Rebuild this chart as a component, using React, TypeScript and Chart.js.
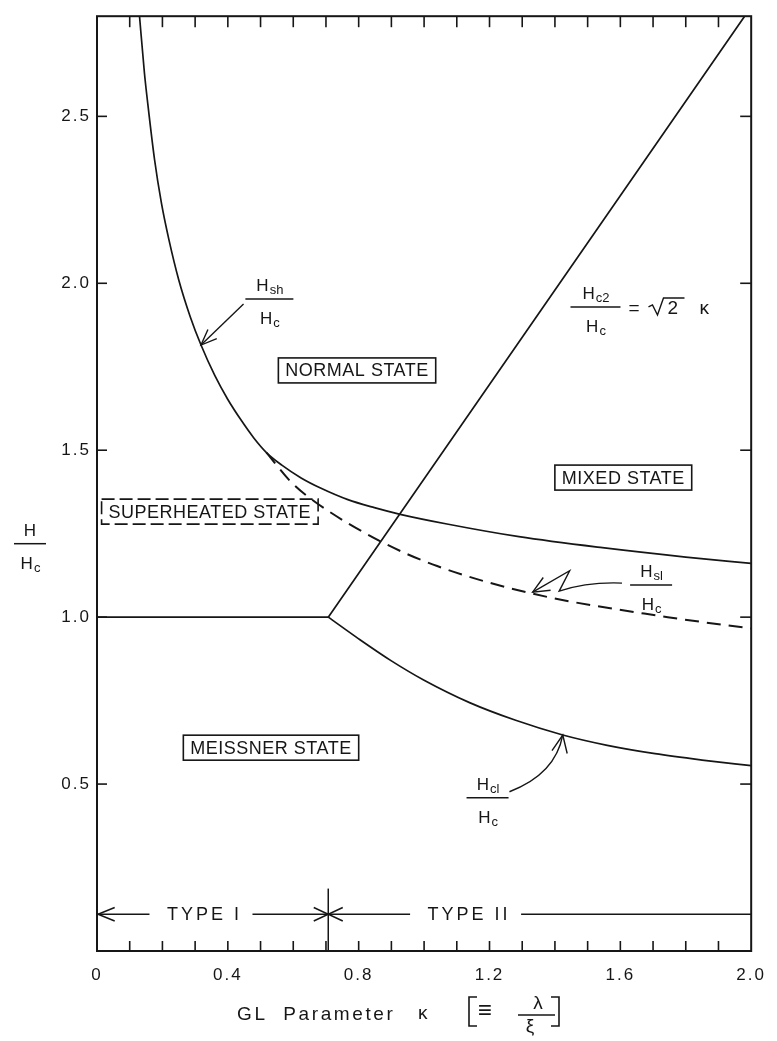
import { useEffect, useRef } from "react";
import { Chart, registerables } from "chart.js";

Chart.register(...registerables);

const FONT = '"Liberation Sans", Arial, sans-serif';
const INK = "#161616";

// Superheating field H_sh / H_c (solid, runs from the top edge down to κ = 2)
const hshKappa = [0.13, 0.145, 0.155, 0.176, 0.197, 0.22, 0.25, 0.285, 0.318, 0.36, 0.4, 0.442, 0.48, 0.518, 0.564, 0.624, 0.685, 0.767, 0.848, 0.927, 1.07, 1.29, 1.545, 1.8, 2.0];
const hshField = [2.8, 2.63, 2.54, 2.37, 2.24, 2.13, 2.01, 1.9, 1.815, 1.724, 1.652, 1.588, 1.536, 1.493, 1.456, 1.417, 1.386, 1.352, 1.328, 1.308, 1.279, 1.241, 1.208, 1.18, 1.161];

// H_s1 / H_c (dashed branch)
const hs1Kappa = [0.518, 0.594, 0.667, 0.867, 1.04, 1.333, 1.745, 2.0];
const hs1Field = [1.493, 1.404, 1.345, 1.227, 1.153, 1.07, 1.0, 0.966];

// Thermodynamic critical field on the type I side
const hcKappa = [0, 0.707];
const hcField = [1.0, 1.0];

// Lower critical field H_c1 / H_c
const hc1Kappa = [0.707, 0.8, 0.9, 1.0, 1.139, 1.28, 1.424, 1.56, 1.706, 1.85, 2.0];
const hc1Field = [1.0, 0.935, 0.869, 0.811, 0.744, 0.691, 0.647, 0.616, 0.591, 0.572, 0.555];

// Upper critical field H_c2 / H_c = √2 κ
const hc2Kappa = [0.707, 1.98];
const hc2Field = [1.0, 2.8];

// Axis ticks
const xTickValues = [0, 0.4, 0.8, 1.2, 1.6, 2.0];
const xTickLabels = ["0", "0.4", "0.8", "1.2", "1.6", "2.0"];
const yTickValues = [0.5, 1.0, 1.5, 2.0, 2.5];
const yTickLabels = ["0.5", "1.0", "1.5", "2.0", "2.5"];

// Boxed region names and their centres (κ, H/Hc)
const regionNames = ["NORMAL STATE", "MIXED STATE", "SUPERHEATED STATE", "MEISSNER STATE"];
const regionKappa = [0.795, 1.609, 0.345, 0.532];
const regionField = [1.739, 1.418, 1.316, 0.609];
const regionDashed = [false, false, true, false];

// Type I / type II divider
const typeBoundary = 0.707;
const typeRowField = 0.11;
const typeNames = ["TYPE I", "TYPE II"];
const typeNameKappa = [0.324, 1.133];

type Ctx = CanvasRenderingContext2D;

function seg(ctx: Ctx, x1: number, y1: number, x2: number, y2: number) {
  ctx.beginPath();
  ctx.moveTo(x1, y1);
  ctx.lineTo(x2, y2);
  ctx.stroke();
}

// open arrowhead at (tx, ty), pointing away from (fx, fy)
function head(ctx: Ctx, tx: number, ty: number, fx: number, fy: number, len: number, spread: number) {
  const ang = Math.atan2(fy - ty, fx - tx);
  const s = (spread * Math.PI) / 180;
  ctx.beginPath();
  ctx.moveTo(tx + len * Math.cos(ang - s), ty + len * Math.sin(ang - s));
  ctx.lineTo(tx, ty);
  ctx.lineTo(tx + len * Math.cos(ang + s), ty + len * Math.sin(ang + s));
  ctx.stroke();
}

// "H_sub" over "H_c" with a bar, centred on (cx, lineY)
function fieldFraction(ctx: Ctx, cx: number, lineY: number, barW: number, sub: string) {
  const main = `17px ${FONT}`;
  const small = `13px ${FONT}`;
  const part = (y: number, s: string) => {
    ctx.font = main;
    const wH = ctx.measureText("H").width;
    ctx.font = small;
    const wS = s ? ctx.measureText(s).width : 0;
    const x0 = cx - (wH + wS) / 2;
    ctx.font = main;
    ctx.fillText("H", x0, y);
    if (s) {
      ctx.font = small;
      ctx.fillText(s, x0 + wH + 1, y + 3);
    }
  };
  ctx.textAlign = "left";
  ctx.textBaseline = "alphabetic";
  part(lineY - 8, sub);
  ctx.lineWidth = 1.5;
  seg(ctx, cx - barW / 2, lineY, cx + barW / 2, lineY);
  part(lineY + 25, "c");
}

const diagramPlugin = {
  id: "diagram",
  beforeDraw(chart: any) {
    chart.ctx.letterSpacing = "2px";
  },
  afterDraw(chart: any) {
    const ctx: Ctx = chart.ctx;
    const a = chart.chartArea;
    const sx = chart.scales.x;
    const sy = chart.scales.y;
    const px = (k: number) => sx.getPixelForValue(k);
    const py = (h: number) => sy.getPixelForValue(h);

    ctx.save();
    ctx.letterSpacing = "0px";
    ctx.strokeStyle = INK;
    ctx.fillStyle = INK;
    ctx.lineCap = "butt";
    ctx.setLineDash([]);

    // frame
    ctx.lineWidth = 2;
    ctx.strokeRect(a.left, a.top, a.right - a.left, a.bottom - a.top);

    // inward ticks: every 0.1 in κ on top and bottom, at the labelled H values on both sides
    ctx.lineWidth = 1.6;
    for (let i = 1; i < 20; i++) {
      const x = px(i / 10);
      seg(ctx, x, a.bottom, x, a.bottom - 10);
      seg(ctx, x, a.top, x, a.top + 11);
    }
    for (const v of yTickValues) {
      const y = py(v);
      seg(ctx, a.left, y, a.left + 10, y);
      seg(ctx, a.right, y, a.right - 11, y);
    }

    // boxed region names
    ctx.font = `18px ${FONT}`;
    ctx.letterSpacing = "0.5px";
    ctx.textAlign = "center";
    ctx.textBaseline = "middle";
    regionNames.forEach((name, i) => {
      const cx = px(regionKappa[i]);
      const cy = py(regionField[i]);
      const w = ctx.measureText(name).width + 14;
      const h = 25;
      ctx.lineWidth = 1.6;
      ctx.setLineDash(regionDashed[i] ? [13, 5] : []);
      ctx.strokeRect(cx - w / 2, cy - h / 2, w, h);
      ctx.setLineDash([]);
      ctx.fillText(name, cx, cy + 1);
    });
    ctx.letterSpacing = "0px";

    // H_sh label and arrow
    fieldFraction(ctx, px(0.527), py(1.953), 48, "sh");
    ctx.lineWidth = 1.4;
    {
      const fx = px(0.448), fy = py(1.938);
      const tx = px(0.318), ty = py(1.815);
      seg(ctx, fx, fy, tx, ty);
      head(ctx, tx, ty, fx, fy, 17, 22);
    }

    // H_s1 label and zig-zag arrow
    fieldFraction(ctx, px(1.694), py(1.096), 42, "sl");
    ctx.lineWidth = 1.4;
    {
      const p0 = [px(1.605), py(1.102)];
      const c0 = [px(1.5), py(1.106)];
      const p1 = [px(1.413), py(1.078)];
      const p2 = [px(1.445), py(1.139)];
      const tip = [px(1.332), py(1.075)];
      ctx.beginPath();
      ctx.moveTo(p0[0], p0[1]);
      ctx.quadraticCurveTo(c0[0], c0[1], p1[0], p1[1]);
      ctx.lineTo(p2[0], p2[1]);
      ctx.lineTo(tip[0], tip[1]);
      ctx.stroke();
      head(ctx, tip[0], tip[1], p2[0], p2[1], 18, 24);
    }

    // H_c1 label and curved arrow
    fieldFraction(ctx, px(1.194), py(0.459), 42, "cl");
    ctx.lineWidth = 1.4;
    {
      const s = [px(1.261), py(0.477)];
      const c = [px(1.4015), py(0.529)];
      const t = [px(1.424), py(0.647)];
      ctx.beginPath();
      ctx.moveTo(s[0], s[1]);
      ctx.quadraticCurveTo(c[0], c[1], t[0], t[1]);
      ctx.stroke();
      head(ctx, t[0], t[1], c[0], c[1], 19, 24);
    }

    // H_c2 / H_c = √2 κ
    {
      const cx = px(1.524);
      const ly = py(1.929);
      fieldFraction(ctx, cx, ly, 50, "c2");
      const base = ly + 7;
      ctx.font = `19px ${FONT}`;
      ctx.textAlign = "left";
      ctx.textBaseline = "alphabetic";
      ctx.fillText("=", cx + 33, base);
      ctx.lineWidth = 1.4;
      ctx.beginPath();
      ctx.moveTo(cx + 53, base - 7);
      ctx.lineTo(cx + 57, base - 9);
      ctx.lineTo(cx + 62, base + 1);
      ctx.lineTo(cx + 68, base - 16);
      ctx.lineTo(cx + 89, base - 16);
      ctx.stroke();
      ctx.fillText("2", cx + 72, base);
      ctx.fillText("κ", cx + 104, base);
    }

    // type I / type II row
    {
      const y = py(typeRowField);
      const xb = px(typeBoundary);
      ctx.lineWidth = 1.5;
      seg(ctx, xb, py(0), xb, py(0.187));
      ctx.font = `18px ${FONT}`;
      ctx.letterSpacing = "3px";
      ctx.textAlign = "center";
      ctx.textBaseline = "middle";
      const gaps: number[][] = [];
      typeNames.forEach((name, i) => {
        const cx = px(typeNameKappa[i]);
        const w = ctx.measureText(name).width;
        ctx.fillText(name, cx + 1.5, y + 1);
        gaps.push([cx - w / 2 - 16, cx + w / 2 + 12]);
      });
      ctx.letterSpacing = "0px";
      ctx.lineWidth = 1.5;
      seg(ctx, a.left, y, gaps[0][0], y);
      seg(ctx, gaps[0][1], y, xb, y);
      seg(ctx, xb, y, gaps[1][0], y);
      seg(ctx, gaps[1][1], y, a.right, y);
      head(ctx, a.left + 1, y, a.left + 30, y, 18, 22);
      head(ctx, xb, y, xb - 30, y, 16, 25);
      head(ctx, xb, y, xb + 30, y, 16, 25);
    }

    // y-axis title H / H_c
    fieldFraction(ctx, a.left - 67, py(1.22), 32, "");

    // x-axis title: GL Parameter κ [≡ λ/ξ]
    {
      const base = a.bottom + 69;
      ctx.textAlign = "left";
      ctx.textBaseline = "alphabetic";
      ctx.font = `19px ${FONT}`;
      ctx.letterSpacing = "2.6px";
      ctx.fillText("GL  Parameter", a.left + 140, base);
      ctx.letterSpacing = "0px";
      ctx.fillText("κ", a.left + 321, base - 1);
      ctx.font = `24px ${FONT}`;
      ctx.fillText("≡", a.left + 381, base - 2);
      ctx.font = `19px ${FONT}`;
      ctx.lineWidth = 1.6;
      const bx1 = a.left + 372, bx2 = a.left + 462;
      const top = base - 23, bot = base + 6;
      ctx.beginPath();
      ctx.moveTo(bx1 + 8, top);
      ctx.lineTo(bx1, top);
      ctx.lineTo(bx1, bot);
      ctx.lineTo(bx1 + 8, bot);
      ctx.stroke();
      ctx.beginPath();
      ctx.moveTo(bx2 - 8, top);
      ctx.lineTo(bx2, top);
      ctx.lineTo(bx2, bot);
      ctx.lineTo(bx2 - 8, bot);
      ctx.stroke();
      const lineY = base - 5;
      seg(ctx, a.left + 421, lineY, a.left + 458, lineY);
      ctx.textAlign = "center";
      ctx.fillText("λ", a.left + 441, lineY - 6);
      ctx.fillText("ξ", a.left + 433, lineY + 17);
    }

    ctx.restore();
  },
};

function curve(ks: number[], hs: number[], dashed: boolean) {
  return {
    data: ks.map((k, i) => ({ x: k, y: hs[i] })),
    showLine: true,
    borderColor: INK,
    borderWidth: dashed ? 2 : 1.7,
    borderDash: dashed ? [14, 8] : [],
    pointRadius: 0,
    pointHoverRadius: 0,
    cubicInterpolationMode: "monotone" as const,
    fill: false,
  };
}

export default function App() {
  const ref = useRef<HTMLCanvasElement | null>(null);

  useEffect(() => {
    document.body.style.margin = "0";
    const canvas = ref.current;
    if (!canvas) return;
    const tickFont = { family: FONT, size: 17 };
    const chart = new Chart(canvas, {
      type: "scatter",
      data: {
        datasets: [
          curve(hshKappa, hshField, false),
          curve(hs1Kappa, hs1Field, true),
          curve(hcKappa, hcField, false),
          curve(hc1Kappa, hc1Field, false),
          curve(hc2Kappa, hc2Field, false),
        ],
      },
      options: {
        responsive: false,
        animation: false,
        devicePixelRatio: 1,
        layout: { padding: { left: 0, top: 6, right: 20, bottom: 0 } },
        plugins: { legend: { display: false }, tooltip: { enabled: false } },
        events: [],
        scales: {
          x: {
            type: "linear",
            min: 0,
            max: 2,
            afterBuildTicks: (s: any) => {
              s.ticks = xTickValues.map((v) => ({ value: v }));
            },
            afterFit: (s: any) => {
              s.height = 90;
            },
            ticks: {
              callback: (_v: any, i: number) => xTickLabels[i],
              font: tickFont,
              color: INK,
              padding: 14,
              maxRotation: 0,
              autoSkip: false,
            },
            grid: { display: false, drawTicks: false },
            border: { display: false },
          },
          y: {
            type: "linear",
            min: 0,
            max: 2.8,
            afterBuildTicks: (s: any) => {
              s.ticks = yTickValues.map((v) => ({ value: v }));
            },
            afterFit: (s: any) => {
              s.width = 97;
            },
            ticks: {
              callback: (_v: any, i: number) => yTickLabels[i],
              font: tickFont,
              color: INK,
              padding: 6,
              autoSkip: false,
            },
            grid: { display: false, drawTicks: false },
            border: { display: false },
          },
        },
      },
      plugins: [diagramPlugin],
    } as any);
    return () => chart.destroy();
  }, []);

  return (
    <div style={{ width: 777, height: 1041, background: "#fff" }}>
      <canvas ref={ref} width={777} height={1041} style={{ display: "block", width: 777, height: 1041 }} />
    </div>
  );
}
